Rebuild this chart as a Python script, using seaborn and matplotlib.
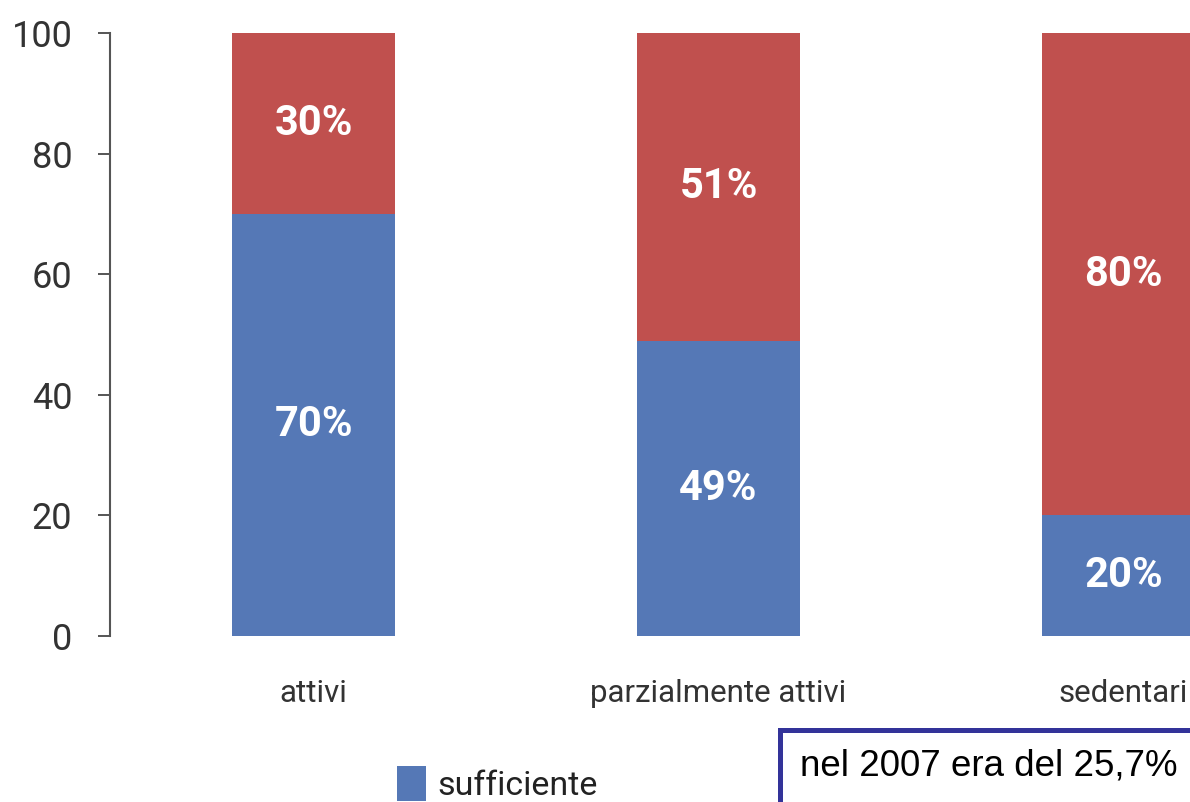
import matplotlib
matplotlib.use("Agg")
import matplotlib.pyplot as plt
from matplotlib.patches import Rectangle
import seaborn as sns
import pandas as pd

# Quota di persone per livello di attività fisica
categories = ["attivi", "parzialmente attivi", "sedentari"]
sufficiente = [70, 49, 20]
insufficiente = [30, 51, 80]
y_ticks = [0, 20, 40, 60, 80, 100]
note_text = "nel 2007 era del 25,7%"

BLUE = "#5578B6"
RED = "#C0504E"

sns.set_theme(style="white")
plt.rcParams["font.family"] = ["Roboto", "DejaVu Sans"]

df = pd.DataFrame({
    "categoria": categories,
    "sufficiente": sufficiente,
    "insufficiente": insufficiente,
})
df["totale"] = df["sufficiente"] + df["insufficiente"]

fig = plt.figure(figsize=(11.9, 8.02), dpi=100)
ax = fig.add_axes([110 / 1190, 166 / 802, 1 - 110 / 1190, 603 / 802])

# stacked bars: full height in red, blue share on top of it
sns.barplot(data=df, x="categoria", y="totale", color=RED, width=0.402,
            saturation=1, ax=ax, label="insufficiente", linewidth=0)
sns.barplot(data=df, x="categoria", y="sufficiente", color=BLUE, width=0.402,
            saturation=1, ax=ax, label="sufficiente", linewidth=0)
if ax.get_legend() is not None:
    ax.get_legend().remove()

for i, row in df.iterrows():
    ax.text(i, row["sufficiente"] / 2, f"{row['sufficiente']}%",
            ha="center", va="center", color="white", fontsize=30,
            fontweight="bold")
    ax.text(i, row["sufficiente"] + row["insufficiente"] / 2,
            f"{row['insufficiente']}%", ha="center", va="center",
            color="white", fontsize=30, fontweight="bold")

ax.set_xlim(-0.5025, 2.164)
ax.set_ylim(0, 100)
ax.set_yticks(y_ticks)
ax.set_xlabel("")
ax.set_ylabel("")

for side in ["top", "right", "bottom"]:
    ax.spines[side].set_visible(False)
ax.spines["left"].set_color("#555555")
ax.spines["left"].set_linewidth(1.5)
ax.spines["left"].set_bounds(0, 100)

ax.tick_params(axis="y", left=True, direction="out", length=8.6, width=1.4,
               color="#555555", pad=18.5, labelsize=26, labelcolor="#333333")
ax.tick_params(axis="x", bottom=False, length=0, pad=31, labelsize=22.5,
               labelcolor="#333333")

# legend: only the blue entry is shown, sitting at the lower edge
handles, labels = ax.get_legend_handles_labels()
h = [hh for hh, ll in zip(handles, labels) if ll == "sufficiente"]
leg = fig.legend(h[:1], ["sufficiente"], loc="upper left",
                 bbox_to_anchor=(397 / 1190, 1 - 766 / 802),
                 frameon=False, fontsize=24.5, handlelength=0.85,
                 handleheight=1.2, handletextpad=0.35, borderpad=0,
                 borderaxespad=0)
for t in leg.get_texts():
    t.set_color("#222222")

# note box with navy border, running off the lower right corner
fig.patches.append(Rectangle((780 / 1190, -0.05), 0.5, (802 - 730) / 802 + 0.05,
                             transform=fig.transFigure, fill=False,
                             edgecolor="#333399", linewidth=3.6,
                             clip_on=False))
fig.text(800 / 1190, 1 - 775 / 802, note_text, ha="left", va="baseline",
         fontsize=26.5, color="black",
         family=["Liberation Sans", "DejaVu Sans"])

fig.savefig("out.png", dpi=100)
